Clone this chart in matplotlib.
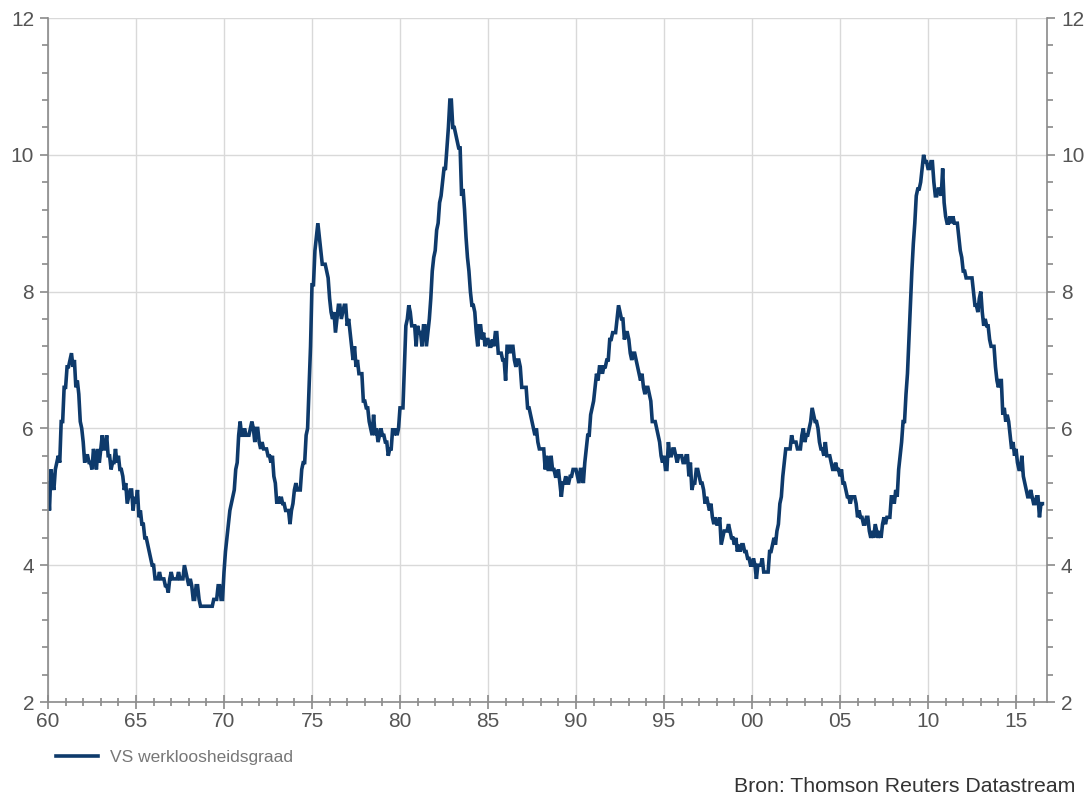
import numpy as np
import matplotlib
matplotlib.use("Agg")
import matplotlib.pyplot as plt
from matplotlib.ticker import MultipleLocator
from matplotlib.lines import Line2D

plt.rcParams['font.family'] = ['Liberation Sans', 'DejaVu Sans']

start_year = 1960
# US unemployment rate, monthly, per decade
u_1960s = [5.2, 4.8, 5.4, 5.2, 5.1, 5.4, 5.5, 5.6, 5.5, 6.1, 6.1, 6.6,
           6.6, 6.9, 6.9, 7.0, 7.1, 6.9, 7.0, 6.6, 6.7, 6.5, 6.1, 6.0,
           5.8, 5.5, 5.6, 5.6, 5.5, 5.5, 5.4, 5.7, 5.6, 5.4, 5.7, 5.5,
           5.7, 5.9, 5.7, 5.7, 5.9, 5.6, 5.6, 5.4, 5.5, 5.5, 5.7, 5.5,
           5.6, 5.4, 5.4, 5.3, 5.1, 5.2, 4.9, 5.0, 5.1, 5.1, 4.8, 5.0,
           4.9, 5.1, 4.7, 4.8, 4.6, 4.6, 4.4, 4.4, 4.3, 4.2, 4.1, 4.0,
           4.0, 3.8, 3.8, 3.8, 3.9, 3.8, 3.8, 3.8, 3.7, 3.7, 3.6, 3.8,
           3.9, 3.8, 3.8, 3.8, 3.8, 3.9, 3.8, 3.8, 3.8, 4.0, 3.9, 3.8,
           3.7, 3.8, 3.7, 3.5, 3.5, 3.7, 3.7, 3.5, 3.4, 3.4, 3.4, 3.4,
           3.4, 3.4, 3.4, 3.4, 3.4, 3.5, 3.5, 3.5, 3.7, 3.7, 3.5, 3.5]
u_1970s = [3.9, 4.2, 4.4, 4.6, 4.8, 4.9, 5.0, 5.1, 5.4, 5.5, 5.9, 6.1,
           5.9, 5.9, 6.0, 5.9, 5.9, 5.9, 6.0, 6.1, 6.0, 5.8, 6.0, 6.0,
           5.8, 5.7, 5.8, 5.7, 5.7, 5.7, 5.6, 5.6, 5.5, 5.6, 5.3, 5.2,
           4.9, 5.0, 4.9, 5.0, 4.9, 4.9, 4.8, 4.8, 4.8, 4.6, 4.8, 4.9,
           5.1, 5.2, 5.1, 5.1, 5.1, 5.4, 5.5, 5.5, 5.9, 6.0, 6.6, 7.2,
           8.1, 8.1, 8.6, 8.8, 9.0, 8.8, 8.6, 8.4, 8.4, 8.4, 8.3, 8.2,
           7.9, 7.7, 7.6, 7.7, 7.4, 7.6, 7.8, 7.8, 7.6, 7.7, 7.8, 7.8,
           7.5, 7.6, 7.4, 7.2, 7.0, 7.2, 6.9, 7.0, 6.8, 6.8, 6.8, 6.4,
           6.4, 6.3, 6.3, 6.1, 6.0, 5.9, 6.2, 5.9, 6.0, 5.8, 5.9, 6.0,
           5.9, 5.9, 5.8, 5.8, 5.6, 5.7, 5.7, 6.0, 5.9, 6.0, 5.9, 6.0]
u_1980s = [6.3, 6.3, 6.3, 6.9, 7.5, 7.6, 7.8, 7.7, 7.5, 7.5, 7.5, 7.2,
           7.5, 7.4, 7.4, 7.2, 7.5, 7.5, 7.2, 7.4, 7.6, 7.9, 8.3, 8.5,
           8.6, 8.9, 9.0, 9.3, 9.4, 9.6, 9.8, 9.8, 10.1, 10.4, 10.8, 10.8,
           10.4, 10.4, 10.3, 10.2, 10.1, 10.1, 9.4, 9.5, 9.2, 8.8, 8.5, 8.3,
           8.0, 7.8, 7.8, 7.7, 7.4, 7.2, 7.5, 7.5, 7.3, 7.4, 7.2, 7.3,
           7.3, 7.2, 7.2, 7.3, 7.2, 7.4, 7.4, 7.1, 7.1, 7.1, 7.0, 7.0,
           6.7, 7.2, 7.2, 7.1, 7.2, 7.2, 7.0, 6.9, 7.0, 7.0, 6.9, 6.6,
           6.6, 6.6, 6.6, 6.3, 6.3, 6.2, 6.1, 6.0, 5.9, 6.0, 5.8, 5.7,
           5.7, 5.7, 5.7, 5.4, 5.6, 5.4, 5.4, 5.6, 5.4, 5.4, 5.3, 5.3,
           5.4, 5.2, 5.0, 5.2, 5.2, 5.3, 5.2, 5.2, 5.3, 5.3, 5.4, 5.4]
u_1990s = [5.4, 5.3, 5.2, 5.4, 5.4, 5.2, 5.5, 5.7, 5.9, 5.9, 6.2, 6.3,
           6.4, 6.6, 6.8, 6.7, 6.9, 6.9, 6.8, 6.9, 6.9, 7.0, 7.0, 7.3,
           7.3, 7.4, 7.4, 7.4, 7.6, 7.8, 7.7, 7.6, 7.6, 7.3, 7.4, 7.4,
           7.3, 7.1, 7.0, 7.1, 7.1, 7.0, 6.9, 6.8, 6.7, 6.8, 6.6, 6.5,
           6.6, 6.6, 6.5, 6.4, 6.1, 6.1, 6.1, 6.0, 5.9, 5.8, 5.6, 5.5,
           5.6, 5.4, 5.4, 5.8, 5.6, 5.6, 5.7, 5.7, 5.6, 5.5, 5.6, 5.6,
           5.6, 5.5, 5.5, 5.6, 5.6, 5.3, 5.5, 5.1, 5.2, 5.2, 5.4, 5.4,
           5.3, 5.2, 5.2, 5.1, 4.9, 5.0, 4.9, 4.8, 4.9, 4.7, 4.6, 4.7,
           4.6, 4.6, 4.7, 4.3, 4.4, 4.5, 4.5, 4.5, 4.6, 4.5, 4.4, 4.4,
           4.3, 4.4, 4.2, 4.3, 4.2, 4.3, 4.3, 4.2, 4.2, 4.1, 4.1, 4.0]
u_2000s = [4.0, 4.1, 4.0, 3.8, 4.0, 4.0, 4.0, 4.1, 3.9, 3.9, 3.9, 3.9,
           4.2, 4.2, 4.3, 4.4, 4.3, 4.5, 4.6, 4.9, 5.0, 5.3, 5.5, 5.7,
           5.7, 5.7, 5.7, 5.9, 5.8, 5.8, 5.8, 5.7, 5.7, 5.7, 5.9, 6.0,
           5.8, 5.9, 5.9, 6.0, 6.1, 6.3, 6.2, 6.1, 6.1, 6.0, 5.8, 5.7,
           5.7, 5.6, 5.8, 5.6, 5.6, 5.6, 5.5, 5.4, 5.4, 5.5, 5.4, 5.4,
           5.3, 5.4, 5.2, 5.2, 5.1, 5.0, 5.0, 4.9, 5.0, 5.0, 5.0, 4.9,
           4.7, 4.8, 4.7, 4.7, 4.6, 4.6, 4.7, 4.7, 4.5, 4.4, 4.5, 4.4,
           4.6, 4.5, 4.4, 4.5, 4.4, 4.6, 4.7, 4.6, 4.7, 4.7, 4.7, 5.0,
           5.0, 4.9, 5.1, 5.0, 5.4, 5.6, 5.8, 6.1, 6.1, 6.5, 6.8, 7.3,
           7.8, 8.3, 8.7, 9.0, 9.4, 9.5, 9.5, 9.6, 9.8, 10.0, 9.9, 9.9]
u_2010s = [9.8, 9.8, 9.9, 9.9, 9.6, 9.4, 9.4, 9.5, 9.5, 9.4, 9.8, 9.3,
           9.1, 9.0, 9.0, 9.1, 9.0, 9.1, 9.0, 9.0, 9.0, 8.8, 8.6, 8.5,
           8.3, 8.3, 8.2, 8.2, 8.2, 8.2, 8.2, 8.0, 7.8, 7.8, 7.7, 7.9,
           8.0, 7.7, 7.5, 7.6, 7.5, 7.5, 7.3, 7.2, 7.2, 7.2, 6.9, 6.7,
           6.6, 6.7, 6.7, 6.2, 6.3, 6.1, 6.2, 6.1, 5.9, 5.7, 5.8, 5.6,
           5.7, 5.5, 5.4, 5.4, 5.6, 5.3, 5.2, 5.1, 5.0, 5.0, 5.1, 5.0,
           4.9, 4.9, 5.0, 5.0, 4.7, 4.9, 4.9]

x_ticks = [1960, 1965, 1970, 1975, 1980, 1985, 1990, 1995, 2000, 2005, 2010, 2015]
x_labels = ['60', '65', '70', '75', '80', '85', '90', '95', '00', '05', '10', '15']
y_ticks = [2, 4, 6, 8, 10, 12]
series_label = 'VS werkloosheidsgraad'
source_text = 'Bron: Thomson Reuters Datastream'

values = np.array(u_1960s + u_1970s + u_1980s + u_1990s + u_2000s + u_2010s)
dates = start_year + np.arange(len(values)) / 12.0

W, H = 1088, 799
fig = plt.figure(figsize=(W / 100, H / 100), dpi=100)
ax = fig.add_axes([48 / W, 1 - 702 / H, (1047 - 48) / W, (702 - 18) / H])

line_color = '#0e3a6b'
ax.plot(dates, values, color=line_color, lw=2.6, solid_joinstyle='miter')

ax.set_xlim(1960, 1960 + (1047 - 48) / 17.6)
ax.set_ylim(2, 12)

grid_c = '#d9d9d9'
ax.set_xticks(x_ticks)
ax.set_xticklabels(x_labels)
ax.xaxis.set_minor_locator(MultipleLocator(1))
ax.set_yticks(y_ticks)
ax.yaxis.set_minor_locator(MultipleLocator(0.4))
ax.grid(True, which='major', color=grid_c, lw=1.0)
ax.set_axisbelow(True)

spine_c = '#8a8a8a'
for s in ['left', 'right', 'bottom']:
    ax.spines[s].set_color(spine_c)
    ax.spines[s].set_linewidth(1.2)
ax.spines['top'].set_visible(False)

label_c = '#555555'
ax.tick_params(axis='y', which='both', left=True, right=True, labelleft=True,
               labelright=True, direction='out', color=spine_c,
               labelcolor=label_c, labelsize=15, pad=4)
ax.tick_params(axis='y', which='major', length=6, width=1.2)
ax.tick_params(axis='y', which='minor', length=4, width=1.2)
ax.tick_params(axis='x', which='both', direction='inout', color=spine_c,
               labelcolor=label_c, labelsize=15, pad=2)
ax.tick_params(axis='x', which='major', length=10, width=1.2)
ax.tick_params(axis='x', which='minor', length=6, width=1.2)

# legend
handle = Line2D([], [], color=line_color, lw=2.6)
fig.legend([handle], [series_label], loc='center left',
           bbox_to_anchor=(56 / W, 1 - 757 / H), frameon=False,
           fontsize=12.5, labelcolor='#777777', handlelength=2.4,
           handletextpad=0.7, borderaxespad=0, borderpad=0)

fig.text(1075 / W, 1 - 787 / H, source_text, ha='right', va='center',
         fontsize=15.3, color='#333333')

fig.savefig('out.png', dpi=100, facecolor='white')
